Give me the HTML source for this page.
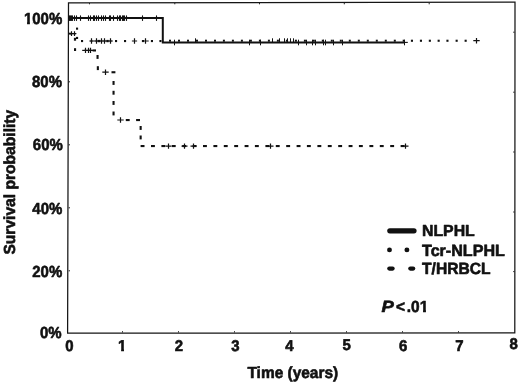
<!DOCTYPE html>
<html><head><meta charset="utf-8"><title>Survival probability</title>
<style>
html,body{margin:0;padding:0;background:#fff;}
body{width:520px;height:384px;overflow:hidden;position:relative;}
svg{position:absolute;left:0;top:0;display:block;}
text{font-family:"Liberation Sans",Arial,Helvetica,sans-serif;font-weight:bold;fill:#111;stroke:#111;stroke-width:0.6px;stroke-linejoin:round;text-rendering:geometricPrecision;}
</style></head><body>
<svg width="520" height="384" viewBox="0 0 520 384">
<rect x="0" y="0" width="520" height="384" fill="#ffffff"/>
<defs><clipPath id="c1"><polygon points="-1,-14 6.35,-14 6.35,1 3.35,1 3.35,-2 -1,-2"/></clipPath>
<clipPath id="c100"><path clip-rule="evenodd" d="M-60,-16H2V4H-60Z M-43,-2H-37.57V1.5H-43Z M-34.57,-2H-31.9V1.5H-34.57Z"/></clipPath>
<clipPath id="c01"><path clip-rule="evenodd" d="M-2,-16H40V4H-2Z M24.4,-2H28.12V1.5H24.4Z M31.12,-2H36V1.5H31.12Z"/></clipPath></defs>
<polygon points="68.5,2.9 515,2.2 514.8,332.8 67.6,333.2" fill="none" stroke="#151515" stroke-width="1.25"/>
<g stroke="#222" stroke-width="1">
<line x1="122.5" y1="332.5" x2="122.5" y2="331.2"/><line x1="178.5" y1="332.5" x2="178.5" y2="331.2"/><line x1="234.5" y1="332.5" x2="234.5" y2="331.2"/><line x1="290.5" y1="332.5" x2="290.5" y2="331.2"/><line x1="346.5" y1="332.5" x2="346.5" y2="331.2"/><line x1="402.5" y1="332.5" x2="402.5" y2="331.2"/><line x1="458.5" y1="332.5" x2="458.5" y2="331.2"/><line x1="89.5" y1="3.0" x2="89.5" y2="4.3"/><line x1="174.8" y1="3.0" x2="174.8" y2="4.3"/><line x1="259.5" y1="3.0" x2="259.5" y2="4.3"/><line x1="344.3" y1="3.0" x2="344.3" y2="4.3"/><line x1="429.2" y1="3.0" x2="429.2" y2="4.3"/><line x1="68.6" y1="270.8" x2="70.0" y2="270.8"/><line x1="68.6" y1="207.8" x2="70.0" y2="207.8"/><line x1="68.6" y1="144.8" x2="70.0" y2="144.8"/><line x1="68.6" y1="81.8" x2="70.0" y2="81.8"/><line x1="514.6" y1="32.2" x2="513.2" y2="32.2"/><line x1="514.6" y1="92.2" x2="513.2" y2="92.2"/><line x1="514.6" y1="152.0" x2="513.2" y2="152.0"/><line x1="514.6" y1="212.0" x2="513.2" y2="212.0"/><line x1="514.6" y1="271.6" x2="513.2" y2="271.6"/></g>
<text transform="translate(62.2,23.9) scale(0.935,1)" font-size="16.0" text-anchor="end" clip-path="url(#c100)">100%</text>
<text transform="translate(62.0,86.6) scale(0.935,1)" font-size="16.0" text-anchor="end">80%</text>
<text transform="translate(62.8,150.0) scale(0.935,1)" font-size="16.0" text-anchor="end">60%</text>
<text transform="translate(62.3,214.3) scale(0.935,1)" font-size="16.0" text-anchor="end">40%</text>
<text transform="translate(62.2,277.1) scale(0.935,1)" font-size="16.0" text-anchor="end">20%</text>
<text transform="translate(61.5,337.7) scale(0.935,1)" font-size="16.0" text-anchor="end">0%</text>
<text transform="translate(69.3,350.9) scale(0.965,1)" font-size="15.5" text-anchor="middle">0</text>
<text transform="translate(117.90,350.9) scale(0.965,1)" font-size="15.5" clip-path="url(#c1)">1</text>
<text transform="translate(178.9,350.9) scale(0.965,1)" font-size="15.5" text-anchor="middle">2</text>
<text transform="translate(235.5,350.9) scale(0.965,1)" font-size="15.5" text-anchor="middle">3</text>
<text transform="translate(289.5,350.9) scale(0.965,1)" font-size="15.5" text-anchor="middle">4</text>
<text transform="translate(346.7,350.1) scale(0.965,1)" font-size="15.5" text-anchor="middle">5</text>
<text transform="translate(403.1,350.7) scale(0.965,1)" font-size="15.5" text-anchor="middle">6</text>
<text transform="translate(459.5,351.4) scale(0.965,1)" font-size="15.5" text-anchor="middle">7</text>
<text transform="translate(513.6,349.2) scale(0.965,1)" font-size="15.5" text-anchor="middle">8</text>
<text transform="translate(292.8,378.3) scale(0.965,1)" font-size="16.0" text-anchor="middle">Time (years)</text>
<text transform="translate(14.7,182.2) rotate(-90) scale(0.975,1)" font-size="16.0" text-anchor="middle">Survival probability</text>
<line x1="389.8" y1="230.8" x2="414" y2="230.8" stroke="#111" stroke-width="5.2" stroke-linecap="round"/>
<text transform="translate(422.0,236.0) scale(0.99,1)" font-size="16.0" text-anchor="start">NLPHL</text>
<circle cx="389.5" cy="249.9" r="2.45" fill="#111"/><circle cx="406.9" cy="249.9" r="2.45" fill="#111"/>
<text transform="translate(422.0,255.5) scale(0.995,1)" font-size="16.2" text-anchor="start">Tcr-NLPHL</text>
<line x1="389.3" y1="268.6" x2="392.6" y2="268.6" stroke="#111" stroke-width="4.2" stroke-linecap="round"/><line x1="410.3" y1="268.6" x2="413.2" y2="268.6" stroke="#111" stroke-width="4.2" stroke-linecap="round"/>
<text transform="translate(422.0,274.4) scale(0.965,1)" font-size="16.2" text-anchor="start">T/HRBCL</text>
<text transform="translate(381.6,311.8) scale(1.14,1)" font-size="16.2" text-anchor="start"><tspan font-style="italic">P</tspan></text>
<text transform="translate(395.9,311.8) scale(0.965,1)" font-size="16.0" text-anchor="start" clip-path="url(#c01)"><tspan dx="0 1.85 0 0.22">&lt;.01</tspan></text>
<g>
<path d="M68.5 33.6H76.4" stroke="#111" stroke-width="1.1"/><path d="M70.0 33.6H73.0M71.5 31.3V35.9" stroke="#111" stroke-width="1.2" fill="none"/><path d="M73.0 33.6H76.0M74.5 31.3V35.9" stroke="#111" stroke-width="1.2" fill="none"/><rect x="68.7" y="32.7" width="2.2" height="1.8" fill="#111"/><rect x="76.0" y="27.6" width="2.1" height="2.1" fill="#111"/><rect x="76.0" y="36.9" width="2.1" height="2.1" fill="#111"/><rect x="73.9" y="37.8" width="2.2" height="2.9" fill="#111"/><rect x="81.0" y="40.0" width="2.1" height="2.1" fill="#111"/><rect x="97.8" y="39.9" width="2.3" height="2.3" fill="#111"/><rect x="106.4" y="39.9" width="2.3" height="2.3" fill="#111"/><path d="M89.4 41.0H112.8" stroke="#111" stroke-width="1.1"/><path d="M90.3 41.0H92.7M91.5 38.3V43.7" stroke="#111" stroke-width="1.2" fill="none"/><path d="M95.3 41.0H97.7M96.5 38.3V43.7" stroke="#111" stroke-width="1.2" fill="none"/><path d="M100.3 41.0H102.7M101.5 38.3V43.7" stroke="#111" stroke-width="1.2" fill="none"/><path d="M103.3 41.0H105.7M104.5 38.3V43.7" stroke="#111" stroke-width="1.2" fill="none"/><path d="M109.3 41.0H111.7M110.5 38.3V43.7" stroke="#111" stroke-width="1.2" fill="none"/><rect x="115.0" y="40.0" width="2.1" height="2.1" fill="#111"/><rect x="124.0" y="40.0" width="2.1" height="2.1" fill="#111"/><rect x="141.9" y="40.0" width="2.1" height="2.1" fill="#111"/><rect x="150.9" y="40.0" width="2.1" height="2.1" fill="#111"/><rect x="159.4" y="40.0" width="2.1" height="2.1" fill="#111"/><path d="M131.9 41.0H137.1M134.5 38.3V43.7" stroke="#111" stroke-width="1.2" fill="none"/><path d="M142.3 41.0H148.7M145.5 38.3V43.7" stroke="#111" stroke-width="1.2" fill="none"/><rect x="169.0" y="39.7" width="2.0" height="2.0" fill="#111"/><rect x="178.0" y="39.7" width="2.0" height="2.0" fill="#111"/><rect x="187.0" y="39.7" width="2.0" height="2.0" fill="#111"/><rect x="196.0" y="39.7" width="2.0" height="2.0" fill="#111"/><rect x="205.0" y="39.7" width="2.0" height="2.0" fill="#111"/><rect x="214.0" y="39.7" width="2.0" height="2.0" fill="#111"/><rect x="222.9" y="39.7" width="2.0" height="2.0" fill="#111"/><rect x="231.9" y="39.7" width="2.0" height="2.0" fill="#111"/><rect x="240.9" y="39.7" width="2.0" height="2.0" fill="#111"/><rect x="249.9" y="39.7" width="2.0" height="2.0" fill="#111"/><rect x="258.9" y="39.7" width="2.0" height="2.0" fill="#111"/><rect x="267.9" y="39.7" width="2.0" height="2.0" fill="#111"/><rect x="276.9" y="39.7" width="2.0" height="2.0" fill="#111"/><rect x="285.9" y="39.7" width="2.0" height="2.0" fill="#111"/><rect x="294.9" y="39.7" width="2.0" height="2.0" fill="#111"/><rect x="303.9" y="39.7" width="2.0" height="2.0" fill="#111"/><rect x="312.8" y="39.7" width="2.0" height="2.0" fill="#111"/><rect x="321.8" y="39.7" width="2.0" height="2.0" fill="#111"/><rect x="330.8" y="39.7" width="2.0" height="2.0" fill="#111"/><rect x="339.8" y="39.7" width="2.0" height="2.0" fill="#111"/><rect x="348.8" y="39.7" width="2.0" height="2.0" fill="#111"/><rect x="357.8" y="39.7" width="2.0" height="2.0" fill="#111"/><rect x="366.8" y="39.7" width="2.0" height="2.0" fill="#111"/><rect x="375.8" y="39.7" width="2.0" height="2.0" fill="#111"/><rect x="384.8" y="39.7" width="2.0" height="2.0" fill="#111"/><rect x="393.8" y="39.7" width="2.0" height="2.0" fill="#111"/><rect x="402.7" y="39.7" width="2.0" height="2.0" fill="#111"/><rect x="410.9" y="39.7" width="2.1" height="2.1" fill="#111"/><rect x="419.9" y="39.7" width="2.1" height="2.1" fill="#111"/><rect x="428.8" y="39.7" width="2.1" height="2.1" fill="#111"/><rect x="437.6" y="39.7" width="2.1" height="2.1" fill="#111"/><rect x="446.4" y="39.7" width="2.1" height="2.1" fill="#111"/><rect x="455.6" y="39.7" width="2.1" height="2.1" fill="#111"/><rect x="464.6" y="39.7" width="2.1" height="2.1" fill="#111"/><path d="M473.3 40.7H479.7M476.5 37.9V43.5" stroke="#111" stroke-width="1.2" fill="none"/></g>
<g>
<rect x="74.0" y="48.2" width="2.1" height="2.8" fill="#111"/><path d="M82.2 50.4H93" stroke="#111" stroke-width="1.2"/><path d="M84.3 50.4H86.7M85.5 47.7V53.1" stroke="#111" stroke-width="1.2" fill="none"/><path d="M87.3 50.4H89.7M88.5 47.7V53.1" stroke="#111" stroke-width="1.2" fill="none"/><path d="M89.3 50.4H91.7M90.5 47.7V53.1" stroke="#111" stroke-width="1.2" fill="none"/><rect x="92.6" y="49.4" width="3.4" height="2.1" fill="#111"/><rect x="96.5" y="55.0" width="2.1" height="3.9" fill="#111"/><rect x="96.8" y="66.2" width="2.1" height="3.9" fill="#111"/><path d="M102.3 72.2H108.7M105.5 69.4V75.0" stroke="#111" stroke-width="1.2" fill="none"/><rect x="111.5" y="71.2" width="3.9" height="2.1" fill="#111"/><rect x="112.5" y="81.0" width="2.1" height="3.9" fill="#111"/><rect x="112.5" y="90.8" width="2.1" height="3.9" fill="#111"/><rect x="112.5" y="101.0" width="2.1" height="3.9" fill="#111"/><rect x="112.5" y="111.5" width="2.1" height="3.9" fill="#111"/><path d="M117.3 120.0H123.7M120.5 117.2V122.8" stroke="#111" stroke-width="1.2" fill="none"/><rect x="125.8" y="119.0" width="3.9" height="2.1" fill="#111"/><rect x="136.1" y="119.0" width="3.9" height="2.1" fill="#111"/><rect x="139.6" y="126.0" width="2.1" height="3.9" fill="#111"/><rect x="139.6" y="135.5" width="2.1" height="3.9" fill="#111"/><rect x="140.6" y="145.0" width="3.9" height="2.1" fill="#111"/><rect x="151.0" y="145.0" width="3.9" height="2.1" fill="#111"/><rect x="161.4" y="145.0" width="3.9" height="2.1" fill="#111"/><rect x="171.8" y="145.0" width="3.9" height="2.1" fill="#111"/><rect x="182.2" y="145.0" width="3.9" height="2.1" fill="#111"/><rect x="192.6" y="145.0" width="3.9" height="2.1" fill="#111"/><rect x="203.0" y="145.0" width="3.9" height="2.1" fill="#111"/><rect x="213.4" y="145.0" width="3.9" height="2.1" fill="#111"/><rect x="223.8" y="145.0" width="3.9" height="2.1" fill="#111"/><rect x="234.2" y="145.0" width="3.9" height="2.1" fill="#111"/><rect x="244.6" y="145.0" width="3.9" height="2.1" fill="#111"/><rect x="254.9" y="145.0" width="3.9" height="2.1" fill="#111"/><rect x="265.4" y="145.0" width="3.9" height="2.1" fill="#111"/><rect x="275.8" y="145.0" width="3.9" height="2.1" fill="#111"/><rect x="286.2" y="145.0" width="3.9" height="2.1" fill="#111"/><rect x="296.6" y="145.0" width="3.9" height="2.1" fill="#111"/><rect x="306.9" y="145.0" width="3.9" height="2.1" fill="#111"/><rect x="317.4" y="145.0" width="3.9" height="2.1" fill="#111"/><rect x="327.8" y="145.0" width="3.9" height="2.1" fill="#111"/><rect x="338.2" y="145.0" width="3.9" height="2.1" fill="#111"/><rect x="348.6" y="145.0" width="3.9" height="2.1" fill="#111"/><rect x="358.9" y="145.0" width="3.9" height="2.1" fill="#111"/><rect x="369.4" y="145.0" width="3.9" height="2.1" fill="#111"/><rect x="379.8" y="145.0" width="3.9" height="2.1" fill="#111"/><rect x="390.2" y="145.0" width="3.9" height="2.1" fill="#111"/><rect x="400.6" y="145.0" width="3.9" height="2.1" fill="#111"/><path d="M165.5 146.1H171.5M168.5 143.4V148.8" stroke="#111" stroke-width="1.2" fill="none"/><path d="M181.5 146.1H187.5M184.5 143.4V148.8" stroke="#111" stroke-width="1.2" fill="none"/><path d="M190.5 146.1H196.5M193.5 143.4V148.8" stroke="#111" stroke-width="1.2" fill="none"/><path d="M267.5 146.1H273.5M270.5 143.4V148.8" stroke="#111" stroke-width="1.2" fill="none"/><path d="M402.5 146.1H408.5M405.5 143.4V148.8" stroke="#111" stroke-width="1.2" fill="none"/></g>
<g>
<path d="M68.5 18.1H162.8V42.5H404.5" stroke="#111" stroke-width="2.0" fill="none" stroke-linejoin="miter"/><path d="M69.5 15.4V20.9" stroke="#111" stroke-width="1.1"/><path d="M70.5 15.4V20.9" stroke="#111" stroke-width="1.1"/><path d="M71.5 15.4V20.9" stroke="#111" stroke-width="1.1"/><path d="M72.5 15.4V20.9" stroke="#111" stroke-width="1.1"/><path d="M74.5 15.4V20.9" stroke="#111" stroke-width="1.1"/><path d="M76.5 15.4V20.9" stroke="#111" stroke-width="1.1"/><path d="M80.5 15.4V20.9" stroke="#111" stroke-width="1.1"/><path d="M88.5 15.4V20.9" stroke="#111" stroke-width="1.1"/><path d="M90.5 15.4V20.9" stroke="#111" stroke-width="1.1"/><path d="M93.5 15.4V20.9" stroke="#111" stroke-width="1.1"/><path d="M94.5 15.4V20.9" stroke="#111" stroke-width="1.1"/><path d="M96.5 15.4V20.9" stroke="#111" stroke-width="1.1"/><path d="M98.5 15.4V20.9" stroke="#111" stroke-width="1.1"/><path d="M101.5 15.4V20.9" stroke="#111" stroke-width="1.1"/><path d="M103.5 15.4V20.9" stroke="#111" stroke-width="1.1"/><path d="M105.5 15.4V20.9" stroke="#111" stroke-width="1.1"/><path d="M109.5 15.4V20.9" stroke="#111" stroke-width="1.1"/><path d="M110.5 15.4V20.9" stroke="#111" stroke-width="1.1"/><path d="M113.5 15.4V20.9" stroke="#111" stroke-width="1.1"/><path d="M117.5 15.4V20.9" stroke="#111" stroke-width="1.1"/><path d="M119.5 15.4V20.9" stroke="#111" stroke-width="1.1"/><path d="M120.5 15.4V20.9" stroke="#111" stroke-width="1.1"/><path d="M122.5 15.4V20.9" stroke="#111" stroke-width="1.1"/><path d="M123.5 15.4V20.9" stroke="#111" stroke-width="1.1"/><path d="M124.5 15.4V20.9" stroke="#111" stroke-width="1.1"/><path d="M126.5 15.4V20.9" stroke="#111" stroke-width="1.1"/><path d="M142.5 15.4V20.9" stroke="#111" stroke-width="1.1"/><path d="M156.5 15.4V20.9" stroke="#111" stroke-width="1.1"/><path d="M69 15.7L72 18.1L69 20.5Z" fill="#111"/><path d="M174.5 39.7V45.3" stroke="#111" stroke-width="1.0"/><path d="M249.5 39.7V45.3" stroke="#111" stroke-width="1.0"/><path d="M260.5 39.7V45.3" stroke="#111" stroke-width="1.0"/><path d="M298.5 39.7V45.3" stroke="#111" stroke-width="1.0"/><path d="M306.5 39.7V45.3" stroke="#111" stroke-width="1.0"/><path d="M312.5 39.7V45.3" stroke="#111" stroke-width="1.0"/><path d="M315.5 39.7V45.3" stroke="#111" stroke-width="1.0"/><path d="M323.5 39.7V45.3" stroke="#111" stroke-width="1.0"/><path d="M325.5 39.7V45.3" stroke="#111" stroke-width="1.0"/><path d="M333.5 39.7V45.3" stroke="#111" stroke-width="1.0"/><path d="M342.5 39.7V45.3" stroke="#111" stroke-width="1.0"/><path d="M404.5 39.7V45.3" stroke="#111" stroke-width="1.0"/><path d="M195.5 38.3V42.5" stroke="#111" stroke-width="1.0"/><path d="M272.5 38.3V42.5" stroke="#111" stroke-width="1.0"/><path d="M279.5 38.3V42.5" stroke="#111" stroke-width="1.0"/><path d="M284.5 38.3V42.5" stroke="#111" stroke-width="1.0"/><path d="M287.5 38.3V42.5" stroke="#111" stroke-width="1.0"/><path d="M290.5 38.3V42.5" stroke="#111" stroke-width="1.0"/><path d="M293.5 38.3V42.5" stroke="#111" stroke-width="1.0"/><path d="M404.5 42.4H407.8" stroke="#111" stroke-width="1.1"/></g>
</svg>
</body></html>
